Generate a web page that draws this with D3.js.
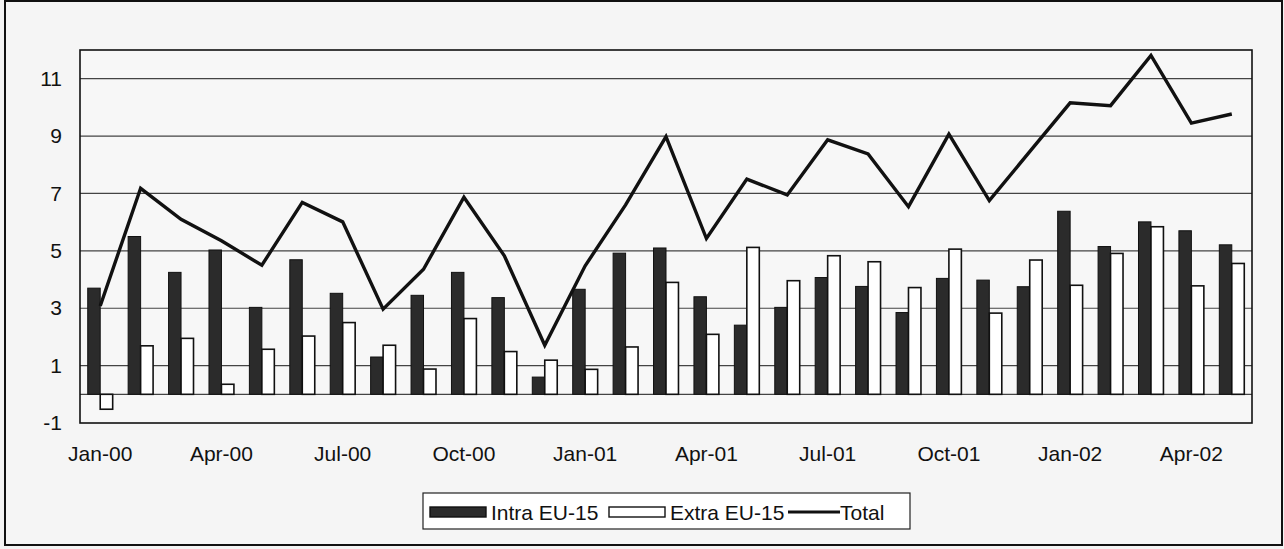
<!DOCTYPE html>
<html>
<head>
<meta charset="utf-8">
<script src="https://cdn.jsdelivr.net/npm/d3@7"></script>
<style>
  body { margin: 0; background: #f3f3f3; }
  text { font-family: "Liberation Sans", Arial, sans-serif; }
</style>
</head>
<body>
<div id="chart"></div>
<script>
const WIDTH = 1284, HEIGHT = 549

// monthly data, Jan-00 .. May-02
const months = ["Jan-00","Feb-00","Mar-00","Apr-00","May-00","Jun-00","Jul-00","Aug-00","Sep-00","Oct-00","Nov-00","Dec-00",
  "Jan-01","Feb-01","Mar-01","Apr-01","May-01","Jun-01","Jul-01","Aug-01","Sep-01","Oct-01","Nov-01","Dec-01",
  "Jan-02","Feb-02","Mar-02","Apr-02","May-02"]
const intra = [3.7,5.5,4.25,5.03,3.03,4.69,3.52,1.3,3.45,4.25,3.37,0.6,
  3.66,4.92,5.1,3.4,2.41,3.03,4.07,3.76,2.85,4.04,3.98,3.75,
  6.38,5.15,6.01,5.7,5.21]
const extra = [-0.52,1.69,1.95,0.35,1.57,2.03,2.5,1.71,0.88,2.64,1.49,1.19,
  0.87,1.65,3.9,2.09,5.12,3.96,4.83,4.62,3.72,5.06,2.83,4.68,
  3.8,4.91,5.84,3.78,4.56]
const total = [3.08,7.18,6.1,5.35,4.5,6.69,6.01,2.97,4.36,6.87,4.83,1.71,
  4.48,6.6,8.98,5.43,7.5,6.95,8.87,8.38,6.54,9.07,6.75,8.46,
  10.16,10.06,11.81,9.45,9.77]
const yTicks = [-1, 1, 3, 5, 7, 9, 11]
const xTicks = ["Jan-00","Apr-00","Jul-00","Oct-00","Jan-01","Apr-01","Jul-01","Oct-01","Jan-02","Apr-02"]
const seriesNames = ["Intra EU-15", "Extra EU-15", "Total"]

const LEFT = 80, RIGHT = 1252, TOP = 50, BOTTOM = 423
const FONT = 21

const svg = d3.select("#chart").append("svg").attr("width", WIDTH).attr("height", HEIGHT)

// outer frame
svg.append("rect").attr("x", 0).attr("y", 0).attr("width", WIDTH).attr("height", HEIGHT).attr("fill", "#f3f3f3")
svg.append("rect").attr("x", 5).attr("y", 1).attr("width", 1277).attr("height", 544)
  .attr("fill", "#f5f5f5").attr("stroke", "#111").attr("stroke-width", 2)

const x = d3.scaleBand().domain(months).range([LEFT, RIGHT]).padding(0)
const xs = d3.scaleBand().domain(["intra", "extra"]).range([0, x.bandwidth()]).paddingInner(0).paddingOuter(0.62)
const y = d3.scaleLinear().domain([-1, 12]).range([BOTTOM, TOP])

const g = svg.append("g")

// plot area
g.append("rect").attr("x", LEFT).attr("y", TOP).attr("width", RIGHT - LEFT).attr("height", BOTTOM - TOP)
  .attr("fill", "#f7f7f7")

// gridlines
g.selectAll("line.grid").data(yTicks.filter(d => d > -1).concat([0])).enter().append("line")
  .attr("class", "grid")
  .attr("x1", LEFT).attr("x2", RIGHT)
  .attr("y1", d => y(d)).attr("y2", d => y(d))
  .attr("stroke", "#444").attr("stroke-width", 1.2)

// bars
g.selectAll("rect.intra").data(intra).enter().append("rect")
  .attr("class", "intra")
  .attr("x", (d, i) => x(months[i]) + xs("intra"))
  .attr("y", d => y(Math.max(0, d)))
  .attr("width", xs.bandwidth())
  .attr("height", d => Math.abs(y(d) - y(0)))
  .attr("fill", "#2b2b2b").attr("stroke", "#111").attr("stroke-width", 1)

g.selectAll("rect.extra").data(extra).enter().append("rect")
  .attr("class", "extra")
  .attr("x", (d, i) => x(months[i]) + xs("extra"))
  .attr("y", d => y(Math.max(0, d)))
  .attr("width", xs.bandwidth())
  .attr("height", d => Math.abs(y(d) - y(0)))
  .attr("fill", "#fff").attr("stroke", "#111").attr("stroke-width", 1.6)

// total line
const line = d3.line().x((d, i) => x(months[i]) + x.bandwidth() / 2).y(d => y(d))
g.append("path").datum(total).attr("d", line)
  .attr("fill", "none").attr("stroke", "#111").attr("stroke-width", 3.4).attr("stroke-linejoin", "miter")

// plot border
g.append("rect").attr("x", LEFT).attr("y", TOP).attr("width", RIGHT - LEFT).attr("height", BOTTOM - TOP)
  .attr("fill", "none").attr("stroke", "#111").attr("stroke-width", 1.6)

// axes
const yAxis = g.append("g").attr("transform", "translate(" + LEFT + ",0)")
  .call(d3.axisLeft(y).tickValues(yTicks).tickSize(0).tickPadding(18).tickFormat(d => String(d)))
yAxis.select(".domain").remove()
yAxis.selectAll("text").attr("font-size", FONT).attr("fill", "#111").attr("font-family", "'Liberation Sans', Arial, sans-serif")

const xAxis = g.append("g").attr("transform", "translate(0," + BOTTOM + ")")
  .call(d3.axisBottom(x).tickValues(xTicks).tickSize(0).tickPadding(23))
xAxis.select(".domain").remove()
xAxis.selectAll("text").attr("font-size", FONT).attr("fill", "#111").attr("font-family", "'Liberation Sans', Arial, sans-serif")

// legend
const legend = svg.append("g")
legend.append("rect").attr("x", 423).attr("y", 493).attr("width", 487).attr("height", 36)
  .attr("fill", "#fff").attr("stroke", "#222").attr("stroke-width", 1.2)

const items = [
  { name: seriesNames[0], x: 430, type: "dark" },
  { name: seriesNames[1], x: 609, type: "white" },
  { name: seriesNames[2], x: 788, type: "line" }
]
items.forEach(item => {
  const row = legend.append("g").attr("transform", "translate(" + item.x + ",512)")
  if (item.type == "line") {
    row.append("line").attr("x1", 0).attr("x2", 52).attr("y1", 0).attr("y2", 0)
      .attr("stroke", "#111").attr("stroke-width", 3)
  } else {
    row.append("rect").attr("x", 0).attr("y", -5).attr("width", 56).attr("height", 10)
      .attr("fill", item.type == "dark" ? "#2b2b2b" : "#fff").attr("stroke", "#111").attr("stroke-width", 1.4)
  }
  row.append("text").attr("x", item.type == "line" ? 52 : 61).attr("y", 8)
    .attr("font-size", FONT).attr("fill", "#111").text(item.name)
})
</script>
</body>
</html>
